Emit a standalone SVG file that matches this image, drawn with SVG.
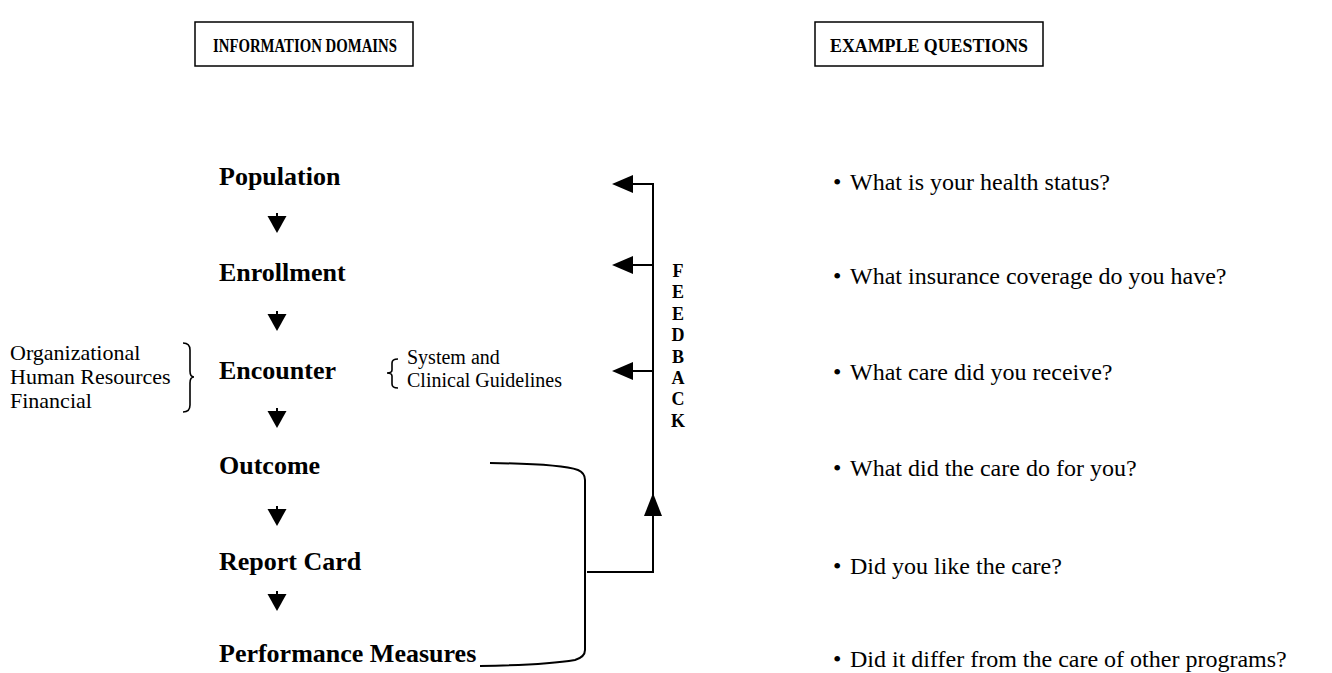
<svg xmlns="http://www.w3.org/2000/svg" width="1332" height="673" viewBox="0 0 1332 673">
  <style>
    text { font-family: "Liberation Serif", "Times New Roman", serif; fill: #000; }
    .hdr { font-size: 19px; font-weight: bold; text-anchor: middle; }
    .dom { font-size: 26px; font-weight: bold; }
    .side { font-size: 22px; }
    .gl { font-size: 20px; }
    .fb { font-size: 18px; font-weight: bold; text-anchor: middle; }
    .q { font-size: 24px; }
    .box { fill: #fff; stroke: #000; stroke-width: 1.5; }
    .ln { fill: none; stroke: #000; stroke-width: 2; }
    .brace { fill: none; stroke: #000; stroke-width: 1.6; }
  </style>
  <defs>
    <g id="down">
      <line x1="0" y1="-2" x2="0" y2="4" stroke="#000" stroke-width="2"/>
      <path d="M-9.5,1 L9.5,1 L0,18 z" fill="#000"/>
    </g>
    <path id="lh" d="M0,0 L21,-9 L21,9 z" fill="#000"/>
  </defs>

  <rect width="1332" height="673" fill="#fff"/>

  <!-- column headings -->
  <g id="hdr-domains">
    <rect class="box" x="195" y="22" width="218" height="44"/>
    <text class="hdr" x="305" y="52" textLength="184" lengthAdjust="spacingAndGlyphs">INFORMATION DOMAINS</text>
  </g>
  <g id="hdr-questions">
    <rect class="box" x="815" y="22" width="228" height="44"/>
    <text class="hdr" x="929" y="52" textLength="198" lengthAdjust="spacingAndGlyphs">EXAMPLE QUESTIONS</text>
  </g>

  <!-- information domains -->
  <g id="population"><text class="dom" x="219" y="185">Population</text></g>
  <g id="enrollment"><text class="dom" x="219" y="281">Enrollment</text></g>
  <g id="encounter"><text class="dom" x="219" y="379">Encounter</text></g>
  <g id="outcome"><text class="dom" x="219" y="474">Outcome</text></g>
  <g id="report-card"><text class="dom" x="219" y="570">Report Card</text></g>
  <g id="performance"><text class="dom" x="219" y="662">Performance Measures</text></g>

  <!-- inputs feeding the encounter -->
  <g id="resources">
    <text class="side" x="10" y="360">Organizational</text>
    <text class="side" x="10" y="384">Human Resources</text>
    <text class="side" x="10" y="408">Financial</text>
    <path class="brace" d="M183,343 Q190,343 190,350 L190,371 Q190,377 194,377 Q190,377 190,383 L190,405 Q190,412 183,412"/>
  </g>
  <g id="guidelines">
    <path class="brace" d="M398,359 Q392,359 392,363 L392,370 Q392,373 387,373 Q392,373 392,376 L392,384 Q392,388 398,388"/>
    <text class="gl" x="407" y="364">System and</text>
    <text class="gl" x="407" y="387">Clinical Guidelines</text>
  </g>

  <!-- feedback label -->
  <g id="feedback">
    <text class="fb" x="678" y="277">F</text>
    <text class="fb" x="678" y="298">E</text>
    <text class="fb" x="678" y="320">E</text>
    <text class="fb" x="678" y="341">D</text>
    <text class="fb" x="678" y="363">B</text>
    <text class="fb" x="678" y="384">A</text>
    <text class="fb" x="678" y="405">C</text>
    <text class="fb" x="678" y="427">K</text>
  </g>

  <!-- example questions -->
  <g id="questions">
    <text class="q" x="833" y="190">•</text>
    <text class="q" x="850" y="190">What is your health status?</text>
    <text class="q" x="833" y="284">•</text>
    <text class="q" x="850" y="284">What insurance coverage do you have?</text>
    <text class="q" x="833" y="380">•</text>
    <text class="q" x="850" y="380">What care did you receive?</text>
    <text class="q" x="833" y="476">•</text>
    <text class="q" x="850" y="476">What did the care do for you?</text>
    <text class="q" x="833" y="574">•</text>
    <text class="q" x="850" y="574">Did you like the care?</text>
    <text class="q" x="833" y="667">•</text>
    <text class="q" x="850" y="667">Did it differ from the care of other programs?</text>
  </g>

  <!-- connectors -->
  <g id="connectors">
    <use href="#down" x="277" y="215"/>
    <use href="#down" x="277" y="313"/>
    <use href="#down" x="277" y="410"/>
    <use href="#down" x="277" y="508"/>
    <use href="#down" x="277" y="593"/>

    <!-- bracket joining outcome and performance measures -->
    <path class="ln" d="M490,463 Q560,464 578,470 Q585,473 585,480 L585,650 Q585,657 575,660 Q545,665 480,666"/>
    <!-- feedback loop -->
    <path class="ln" d="M587,572 L653,572 L653,184 L632,184"/>
    <line class="ln" x1="653" y1="265" x2="632" y2="265"/>
    <line class="ln" x1="653" y1="371" x2="632" y2="371"/>
    <use href="#lh" x="612" y="184"/>
    <use href="#lh" x="612" y="265"/>
    <use href="#lh" x="612" y="371"/>
    <path d="M653,493 L662,516 L644,516 z" fill="#000"/>
  </g>
</svg>
